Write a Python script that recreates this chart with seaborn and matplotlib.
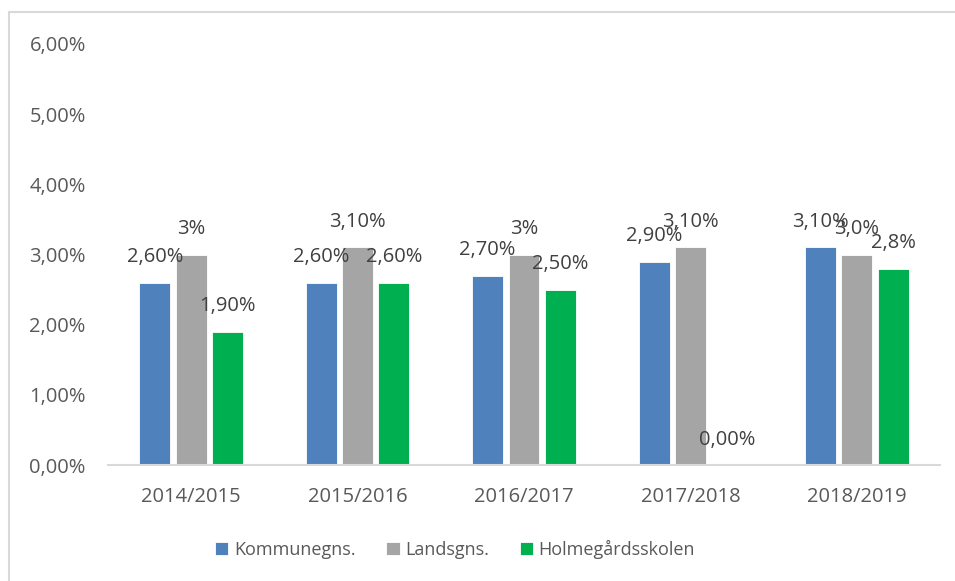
import pandas as pd
import matplotlib
matplotlib.use('Agg')
import matplotlib.pyplot as plt
import seaborn as sns
from matplotlib.ticker import FuncFormatter, MultipleLocator
from matplotlib.patches import Rectangle

# --- data ---
years = ['2014/2015', '2015/2016', '2016/2017', '2017/2018', '2018/2019']
series = ['Kommunegns.', 'Landsgns.', 'Holmegårdsskolen']
kommune = [0.026, 0.026, 0.027, 0.029, 0.031]
lands = [0.030, 0.031, 0.030, 0.031, 0.030]
holme = [0.019, 0.026, 0.025, 0.000, 0.028]

# data labels exactly as printed in the chart
kommune_labels = ['2,60%', '2,60%', '2,70%', '2,90%', '3,10%']
lands_labels = ['3%', '3,10%', '3%', '3,10%', '3,0%']
holme_labels = ['1,90%', '2,60%', '2,50%', '0,00%', '2,8%']

colors = ['#4F81BD', '#A5A5A5', '#00B050']

# Build long table for seaborn
df = pd.DataFrame({
    'Year': years * 3,
    'Series': [series[0]] * 5 + [series[1]] * 5 + [series[2]] * 5,
    'Value': kommune + lands + holme,
})
all_labels = [kommune_labels, lands_labels, holme_labels]

sns.set_theme(style='white')
plt.rcParams['font.family'] = ['Open Sans', 'DejaVu Sans']

fig = plt.figure(figsize=(9.55, 5.81), dpi=100)
ax = fig.add_axes([108 / 955, 1 - 465 / 581, (940 - 108) / 955, (465 - 44) / 581])

sns.barplot(data=df, x='Year', y='Value', hue='Series', palette=colors,
            width=0.655, gap=0.15, order=years, hue_order=series, saturation=1,
            edgecolor='white', linewidth=0.6, ax=ax)

# Value labels above the bars
for cont, labs in zip(ax.containers, all_labels):
    ax.bar_label(cont, labels=labs, padding=11, fontsize=14.5, color='#404040')

ax.set_ylim(0, 0.06)
ax.set_xlim(-0.5, 4.5)
ax.yaxis.set_major_locator(MultipleLocator(0.01))
ax.yaxis.set_major_formatter(FuncFormatter(lambda v, p: f'{v * 100:.2f}'.replace('.', ',') + '%'))
ax.set_xlabel('')
ax.set_ylabel('')
ax.tick_params(axis='y', length=0, pad=16, labelsize=14.5, labelcolor='#595959')
ax.tick_params(axis='x', length=0, pad=16, labelsize=14.5, labelcolor='#595959')

for side in ['top', 'right', 'left']:
    ax.spines[side].set_visible(False)
ax.spines['bottom'].set_color('#D9D9D9')
ax.spines['bottom'].set_linewidth(1.5)

# Legend at the bottom
handles, labels = ax.get_legend_handles_labels()
ax.legend_.remove()
fig.legend(handles, labels, loc='center', bbox_to_anchor=(455 / 955, 1 - 549 / 581),
           ncol=3, frameon=False, fontsize=13, labelcolor='#595959',
           handlelength=0.75, handleheight=0.75, handletextpad=0.3, columnspacing=1.7)

# Light chart border (left and top edges visible)
fig.patches.append(Rectangle((9 / 955, -0.1), 1.2, 1.1 - 12 / 581, transform=fig.transFigure,
                             fill=False, edgecolor='#D9D9D9', linewidth=1.5))

fig.savefig('out.png', dpi=100)
